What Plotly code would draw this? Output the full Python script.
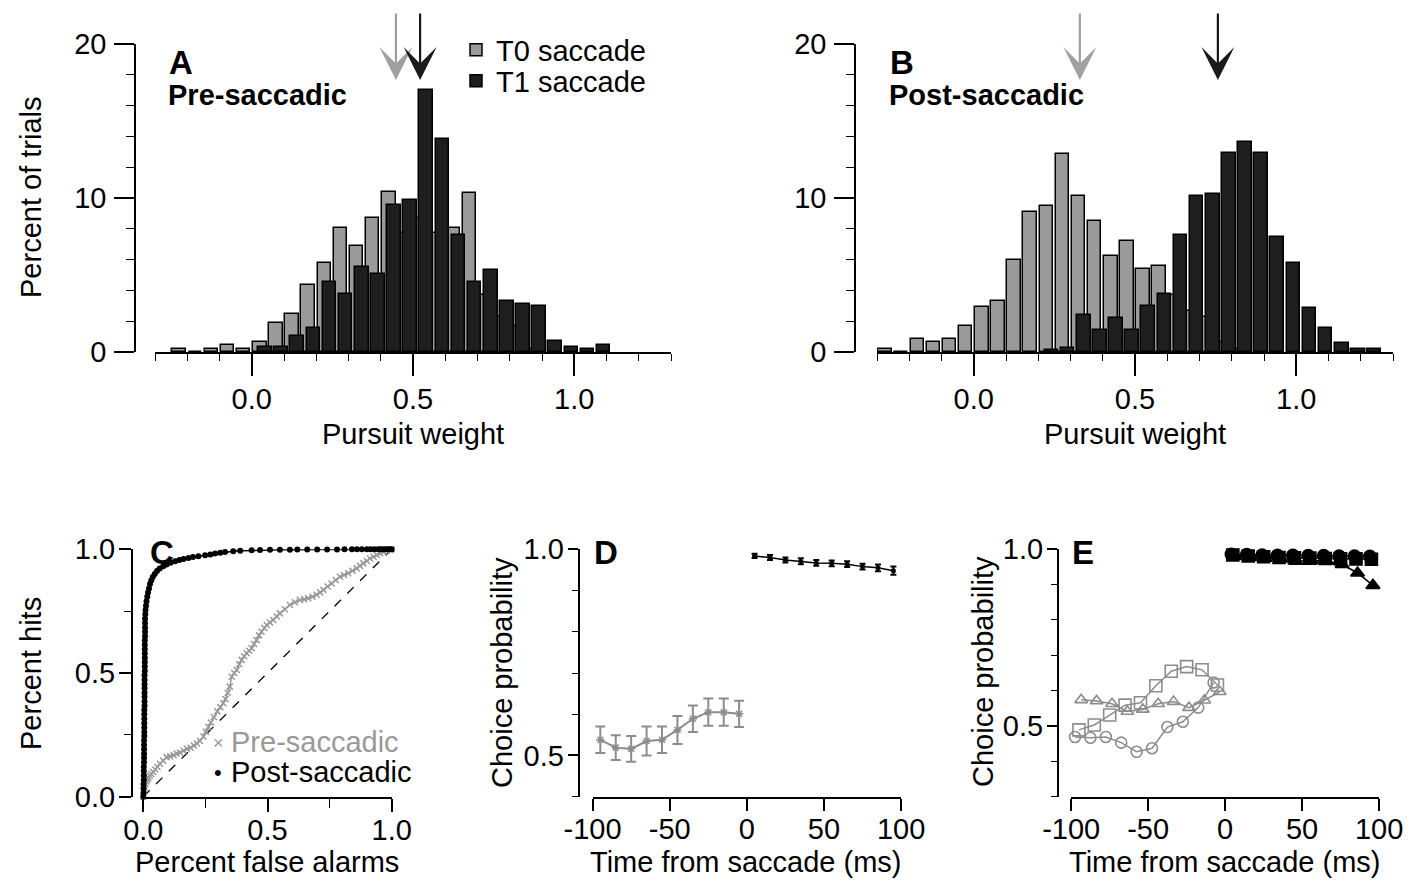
import plotly.graph_objects as go

W, H = 1419, 883
FONT = "Liberation Sans, Arial, Helvetica, sans-serif"
FS = 29
BAR_GRAY = "#9a9a9a"
BAR_BLACK = "#1e1e1e"
LINE_GRAY = "#8c8c8c"
C_GRAY = "#999999"

# ---------------- data ----------------
# Panel A (pre-saccadic) histogram, percent of trials per 0.05 bin (bin centres)
a_t0_bins = [-0.225, -0.175, -0.125, -0.075, -0.025, 0.025, 0.075, 0.125, 0.175, 0.225, 0.275,
             0.325, 0.375, 0.425, 0.475, 0.525, 0.575, 0.625, 0.675, 0.725, 0.775, 0.825, 0.875]
a_t0_pct = [0.22, 0.0, 0.22, 0.43, 0.22, 0.65, 1.88, 2.49, 4.35, 5.8, 8.08,
            6.86, 8.7, 10.37, 7.7, 8.7, 7.7, 8.05, 10.3, 3.68, 2.27, 1.67, 0.22]
a_t1_bins = [0.025, 0.075, 0.125, 0.175, 0.225, 0.275, 0.325, 0.375, 0.425, 0.475, 0.525,
             0.575, 0.625, 0.675, 0.725, 0.775, 0.825, 0.875, 0.925, 0.975, 1.025, 1.075]
a_t1_pct = [0.32, 0.32, 1.02, 1.56, 4.53, 3.79, 5.5, 5.09, 9.53, 9.85, 17.0,
            13.86, 7.6, 4.53, 5.35, 3.29, 3.1, 2.99, 0.71, 0.32, 0.22, 0.48]

# Panel B (post-saccadic) histogram
b_t0_bins = [-0.275, -0.225, -0.175, -0.125, -0.075, -0.025, 0.025, 0.075, 0.125, 0.175, 0.225,
             0.275, 0.325, 0.375, 0.425, 0.475, 0.525, 0.575, 0.625, 0.675, 0.725, 0.775, 0.825]
b_t0_pct = [0.2, 0.0, 0.82, 0.65, 0.82, 1.67, 2.92, 3.34, 6.0, 9.09, 9.5,
            12.84, 10.13, 8.51, 6.21, 7.21, 5.39, 5.59, 3.73, 2.64, 2.27, 0.65, 0.22]
b_t1_bins = [0.225, 0.275, 0.325, 0.375, 0.425, 0.475, 0.525, 0.575, 0.625, 0.675, 0.725,
             0.775, 0.825, 0.875, 0.925, 0.975, 1.025, 1.075, 1.125, 1.175, 1.225]
b_t1_pct = [0.15, 0.28, 2.38, 1.41, 2.23, 1.41, 2.97, 3.79, 7.62, 10.11, 10.26,
            12.92, 13.64, 12.92, 7.47, 5.78, 2.86, 1.56, 0.61, 0.18, 0.18]

# Mean pursuit weights (arrows)
a_mean_t0, a_mean_t1 = 0.447, 0.522
b_mean_t0, b_mean_t1 = 0.329, 0.757

# Panel C ROC curves
c_pre_fa = [0.000, 0.003, 0.005, 0.008, 0.012, 0.016, 0.020, 0.026, 0.032, 0.040, 0.048, 0.057,
            0.067, 0.080, 0.094, 0.108, 0.122, 0.134, 0.148, 0.162, 0.176, 0.190, 0.204, 0.216,
            0.228, 0.242, 0.252, 0.262, 0.272, 0.284, 0.298, 0.310, 0.322, 0.331, 0.340, 0.348,
            0.356, 0.366, 0.376, 0.386, 0.396, 0.406, 0.416, 0.426, 0.436, 0.446, 0.456, 0.466,
            0.476, 0.487, 0.497, 0.510, 0.523, 0.537, 0.550, 0.570, 0.590, 0.610, 0.631, 0.648,
            0.664, 0.681, 0.698, 0.712, 0.725, 0.742, 0.758, 0.775, 0.792, 0.808, 0.825, 0.842,
            0.859, 0.872, 0.886, 0.900, 0.913, 0.927, 0.940, 0.953, 0.966, 0.980, 0.993, 1.000]
c_pre_hit = [0.000, 0.020, 0.035, 0.050, 0.062, 0.070, 0.077, 0.085, 0.092, 0.100, 0.110, 0.120,
             0.133, 0.145, 0.160, 0.163, 0.168, 0.175, 0.178, 0.186, 0.194, 0.198, 0.207, 0.215,
             0.225, 0.243, 0.262, 0.283, 0.300, 0.322, 0.345, 0.362, 0.378, 0.395, 0.420, 0.445,
             0.485, 0.500, 0.512, 0.535, 0.553, 0.568, 0.580, 0.590, 0.600, 0.617, 0.633, 0.652,
             0.667, 0.682, 0.694, 0.704, 0.714, 0.728, 0.741, 0.758, 0.775, 0.786, 0.795, 0.798,
             0.802, 0.808, 0.816, 0.826, 0.836, 0.850, 0.862, 0.876, 0.889, 0.896, 0.903, 0.913,
             0.923, 0.933, 0.943, 0.953, 0.963, 0.970, 0.977, 0.984, 0.990, 0.994, 0.997, 1.000]
c_post_fa = [0.000, 0.001, 0.001, 0.001, 0.002, 0.002, 0.002, 0.002, 0.003, 0.003, 0.003, 0.003,
             0.003, 0.003, 0.004, 0.004, 0.004, 0.004, 0.004, 0.004, 0.004, 0.005, 0.005, 0.005,
             0.005, 0.005, 0.005, 0.005, 0.005, 0.006, 0.006, 0.006, 0.006, 0.006, 0.006, 0.006,
             0.006, 0.007, 0.007, 0.007, 0.007, 0.007, 0.008, 0.009, 0.011, 0.013, 0.016, 0.019,
             0.023, 0.027, 0.032, 0.038, 0.046, 0.055, 0.066, 0.080, 0.094, 0.110, 0.128, 0.145,
             0.162, 0.182, 0.200, 0.222, 0.249, 0.270, 0.289, 0.310, 0.329, 0.362, 0.390, 0.436,
             0.470, 0.510, 0.550, 0.590, 0.620, 0.660, 0.700, 0.740, 0.780, 0.810, 0.840, 0.860,
             0.880, 0.900, 0.915, 0.930, 0.945, 0.955, 0.965, 0.975, 0.985, 0.993, 1.000]
c_post_hit = [0.000, 0.016, 0.034, 0.051, 0.069, 0.086, 0.104, 0.121, 0.139, 0.157, 0.174, 0.192,
              0.209, 0.227, 0.245, 0.262, 0.280, 0.297, 0.315, 0.333, 0.350, 0.368, 0.385, 0.404,
              0.420, 0.438, 0.455, 0.473, 0.491, 0.508, 0.526, 0.543, 0.561, 0.579, 0.596, 0.614,
              0.631, 0.649, 0.667, 0.684, 0.702, 0.719, 0.737, 0.755, 0.772, 0.790, 0.808, 0.825,
              0.842, 0.860, 0.874, 0.888, 0.900, 0.912, 0.922, 0.931, 0.939, 0.946, 0.952, 0.957,
              0.961, 0.965, 0.969, 0.972, 0.976, 0.979, 0.983, 0.986, 0.989, 0.992, 0.994, 0.996,
              0.997, 0.998, 0.998, 0.998, 0.999, 0.999, 0.999, 0.999, 0.999, 1.000, 1.000, 1.000,
              1.000, 1.000, 1.000, 1.000, 1.000, 1.000, 1.000, 1.000, 1.000, 1.000, 1.000]
chance_line = [0.0, 1.0]

# Panel D choice probability (mean +/- error)
d_time_pre = [-95, -85, -75, -65, -55, -45, -35, -25, -15, -5]
d_cp_pre = [0.538, 0.519, 0.516, 0.535, 0.538, 0.562, 0.589, 0.605, 0.605, 0.601]
d_err_pre = [0.032, 0.030, 0.031, 0.035, 0.032, 0.034, 0.032, 0.033, 0.033, 0.032]
d_time_post = [5, 15, 25, 35, 45, 55, 65, 75, 85, 95]
d_cp_post = [0.984, 0.980, 0.974, 0.971, 0.967, 0.966, 0.964, 0.958, 0.955, 0.948]
d_err_post = [0.005, 0.006, 0.006, 0.007, 0.007, 0.007, 0.007, 0.007, 0.008, 0.010]

# Panel E choice probability, three individual data sets
e_time_circ_pre = [-97.5, -87.5, -77.5, -67.5, -57.5, -47.5, -37.5, -27.5, -17.5, -7.5]
e_time_sq_pre = [-95, -85, -75, -65, -55, -45, -35, -25, -15, -5]
e_time_tri_pre = [-93.5, -83.5, -73.5, -63.5, -53.5, -43.5, -33.5, -23.5, -13.5, -3.5]
e_circ_pre = [0.469, 0.467, 0.469, 0.453, 0.427, 0.437, 0.497, 0.512, 0.552, 0.623]
e_sq_pre = [0.489, 0.503, 0.531, 0.559, 0.566, 0.614, 0.655, 0.668, 0.659, 0.616]
e_tri_pre = [0.574, 0.571, 0.563, 0.541, 0.547, 0.563, 0.569, 0.552, 0.573, 0.597]
e_time_circ_post = [4, 14, 24, 34, 44, 54, 64, 74, 84, 94]
e_time_sq_post = [5, 15, 25, 35, 45, 55, 65, 75, 85, 95]
e_time_tri_post = [6, 16, 26, 36, 46, 56, 66, 76, 86, 96]
e_circ_post = [0.986, 0.985, 0.984, 0.983, 0.983, 0.982, 0.982, 0.981, 0.981, 0.980]
e_sq_post = [0.984, 0.981, 0.979, 0.977, 0.976, 0.975, 0.974, 0.973, 0.973, 0.972]
e_tri_post = [0.980, 0.977, 0.975, 0.973, 0.966, 0.968, 0.966, 0.957, 0.933, 0.898]

time_ticks = [-100, -50, 0, 50, 100]
time_tick_text = ["-100", "-50", "0", "50", "100"]


# ---------------- helpers ----------------
def px(x):
    return x / W


def py(y):
    return 1 - y / H


tickfont = dict(family=FONT, size=FS, color="black")
axis_common = dict(showline=True, linecolor="black", linewidth=1.6, ticks="outside",
                   tickcolor="black", tickwidth=1.6, showgrid=False, zeroline=False,
                   tickfont=tickfont, fixedrange=True, automargin=False)

fig = go.Figure()

# ---- A ----
fig.add_trace(go.Bar(x=a_t0_bins, y=a_t0_pct, width=0.042, offset=-0.021, name="T0 saccade",
                     marker=dict(color=BAR_GRAY, line=dict(color="black", width=1.5)),
                     xaxis="x", yaxis="y", legend="legend", showlegend=True))
fig.add_trace(go.Bar(x=a_t1_bins, y=a_t1_pct, width=0.042, offset=-0.005, name="T1 saccade",
                     marker=dict(color=BAR_BLACK, line=dict(color="black", width=1.5)),
                     xaxis="x", yaxis="y", legend="legend2", showlegend=True))
# ---- B ----
fig.add_trace(go.Bar(x=b_t0_bins, y=b_t0_pct, width=0.042, offset=-0.021, showlegend=False,
                     marker=dict(color=BAR_GRAY, line=dict(color="black", width=1.5)),
                     xaxis="x2", yaxis="y2"))
fig.add_trace(go.Bar(x=b_t1_bins, y=b_t1_pct, width=0.042, offset=-0.005, showlegend=False,
                     marker=dict(color=BAR_BLACK, line=dict(color="black", width=1.5)),
                     xaxis="x2", yaxis="y2"))

# ---- C ----
fig.add_trace(go.Scatter(x=chance_line, y=chance_line, mode="lines", showlegend=False,
                         line=dict(color="black", width=1.3, dash="dash"),
                         xaxis="x3", yaxis="y3", cliponaxis=False))
fig.add_trace(go.Scatter(x=c_pre_fa, y=c_pre_hit, mode="lines+markers", showlegend=False,
                         line=dict(color=C_GRAY, width=1.5),
                         marker=dict(symbol="x-thin-open", size=6, color=C_GRAY,
                                     line=dict(width=1.5, color=C_GRAY)),
                         xaxis="x3", yaxis="y3", cliponaxis=False))
fig.add_trace(go.Scatter(x=c_post_fa, y=c_post_hit, mode="lines+markers", showlegend=False,
                         line=dict(color="black", width=1.5),
                         marker=dict(symbol="circle", size=6, color="black"),
                         xaxis="x3", yaxis="y3", cliponaxis=False))

# ---- D ----
fig.add_trace(go.Scatter(x=d_time_pre, y=d_cp_pre, mode="lines+markers", showlegend=False,
                         line=dict(color=LINE_GRAY, width=2),
                         marker=dict(symbol="asterisk-open", size=7,
                                     line=dict(width=1.5, color=LINE_GRAY)),
                         error_y=dict(type="data", array=d_err_pre, color=LINE_GRAY,
                                      thickness=2, width=5),
                         xaxis="x4", yaxis="y4", cliponaxis=False))
fig.add_trace(go.Scatter(x=d_time_post, y=d_cp_post, mode="lines+markers", showlegend=False,
                         line=dict(color="black", width=1.5),
                         marker=dict(symbol="circle", size=5, color="black"),
                         error_y=dict(type="data", array=d_err_post, color="black",
                                      thickness=2, width=3),
                         xaxis="x4", yaxis="y4", cliponaxis=False))

# ---- E ----
e_sets = [
    (e_time_sq_pre, e_sq_pre, "square-open", LINE_GRAY, 12),
    (e_time_tri_pre, e_tri_pre, "triangle-up-open", LINE_GRAY, 11),
    (e_time_circ_pre, e_circ_pre, "circle-open", LINE_GRAY, 11),
    (e_time_tri_post, e_tri_post, "triangle-up", "black", 12),
    (e_time_sq_post, e_sq_post, "square", "black", 12),
    (e_time_circ_post, e_circ_post, "circle", "black", 12),
]
for tx, ty, sym, col, sz in e_sets:
    fig.add_trace(go.Scatter(x=tx, y=ty, mode="lines+markers", showlegend=False,
                             line=dict(color=col, width=1.5),
                             marker=dict(symbol=sym, size=sz, color=col,
                                         line=dict(width=1.6, color=col)),
                             xaxis="x5", yaxis="y5", cliponaxis=False))

# ---------------- axes ----------------
hist_y_dom = [py(352), py(44)]
low_y_dom = [py(796.7), py(549.3)]

def minor(dt, ln):
    return dict(ticks="outside", dtick=dt, tick0=0, ticklen=ln,
                tickcolor="black", tickwidth=1.4, showgrid=False)

layout_axes = dict(
    xaxis=dict(axis_common, domain=[px(155), px(671)], range=[-0.3, 1.3], anchor="y",
               tick0=0, dtick=0.5, ticklen=22, tickformat=".1f", ticklabelstandoff=-2,
               minor=minor(0.1, 7)),
    yaxis=dict(axis_common, domain=hist_y_dom, range=[0, 20], anchor="free", position=px(135),
               tick0=0, dtick=10, ticklen=20, ticklabelstandoff=2, minor=minor(2, 8)),
    xaxis2=dict(axis_common, domain=[px(877), px(1393)], range=[-0.3, 1.3], anchor="y2",
                tick0=0, dtick=0.5, ticklen=22, tickformat=".1f", ticklabelstandoff=-2,
                minor=minor(0.1, 7)),
    yaxis2=dict(axis_common, domain=hist_y_dom, range=[0, 20], anchor="free", position=px(855),
                tick0=0, dtick=10, ticklen=20, ticklabelstandoff=2, minor=minor(2, 8)),
    xaxis3=dict(axis_common, domain=[px(143.3), px(391.7)], range=[0, 1], anchor="y3",
                tick0=0, dtick=0.5, ticklen=13, tickformat=".1f", ticklabelstandoff=-6,
                minor=minor(0.25, 9)),
    yaxis3=dict(axis_common, domain=low_y_dom, range=[0, 1], anchor="free", position=px(131.7),
                tick0=0, dtick=0.5, ticklen=12, tickformat=".1f", ticklabelstandoff=-2,
                minor=minor(0.25, 7)),
    xaxis4=dict(axis_common, domain=[px(592.6), px(901.1)], range=[-100, 100], anchor="y4",
                tickvals=time_ticks, ticktext=time_tick_text, ticklen=12, ticklabelstandoff=-6),
    yaxis4=dict(axis_common, domain=low_y_dom, range=[0.4, 1.0], anchor="free", position=px(578.5),
                tickvals=[0.5, 1.0], tickformat=".1f", ticklen=10, ticklabelstandoff=-2,
                minor=minor(0.1, 6)),
    xaxis5=dict(axis_common, domain=[px(1071.2), px(1379.1)], range=[-100, 100], anchor="y5",
                tickvals=time_ticks, ticktext=time_tick_text, ticklen=12, ticklabelstandoff=-6),
    yaxis5=dict(axis_common, domain=low_y_dom, range=[0.3, 1.0], anchor="free", position=px(1057.7),
                tickvals=[0.5, 1.0], tickformat=".1f", ticklen=10, ticklabelstandoff=-2,
                minor=minor(0.1, 6)),
)


# ---------------- annotations ----------------
def txt(text, x, y, size=FS, bold=False, color="black", angle=0, xanchor="center"):
    t = "<b>%s</b>" % text if bold else text
    return dict(text=t, x=px(x), y=py(y), xref="paper", yref="paper", showarrow=False,
                xanchor=xanchor, yanchor="middle", textangle=angle,
                font=dict(family=FONT, size=size, color=color))


annots = [
    txt("A", 167, 62, size=33, bold=True, xanchor="left"),
    txt("Pre-saccadic", 166, 95, bold=True, xanchor="left"),
    txt("B", 888, 62, size=33, bold=True, xanchor="left"),
    txt("Post-saccadic", 887, 95, bold=True, xanchor="left"),
    txt("C", 162, 552, size=33, bold=True),
    txt("D", 606, 552, size=33, bold=True),
    txt("E", 1083, 552, size=33, bold=True),
    txt("Percent of trials", 31, 198, angle=-90),
    txt("Pursuit weight", 413, 434),
    txt("Pursuit weight", 1135, 434),
    txt("Percent hits", 31, 674, angle=-90),
    txt("Percent false alarms", 267, 862),
    txt("Choice probability", 502, 672, angle=-90),
    txt("Choice probability", 983, 672, angle=-90),
    txt("Time from saccade (ms)", 746, 862),
    txt("Time from saccade (ms)", 1225, 862),
    txt("×", 218, 743, size=18, color=C_GRAY),
    txt("Pre-saccadic", 229, 742, color=C_GRAY, xanchor="left"),
    txt("•", 218, 772, size=22),
    txt("Post-saccadic", 229, 772, xanchor="left"),
]

for xm, col, xr in [(a_mean_t0, "#a0a0a0", "x"), (a_mean_t1, "#1a1a1a", "x"),
                    (b_mean_t0, "#a0a0a0", "x2"), (b_mean_t1, "#1a1a1a", "x2")]:
    annots.append(dict(x=xm, y=py(80), xref=xr, yref="paper", text="", showarrow=True,
                       ax=0, ay=-68, arrowhead=3, arrowsize=2.5, arrowwidth=2.2,
                       arrowcolor=col, standoff=0))

legend_common = dict(xanchor="left", yanchor="middle", bgcolor="rgba(0,0,0,0)",
                     borderwidth=0, itemwidth=30,
                     font=dict(family=FONT, size=FS, color="black"))

fig.update_layout(
    width=W, height=H, margin=dict(l=0, r=0, t=0, b=0, pad=0, autoexpand=False),
    paper_bgcolor="white", plot_bgcolor="white",
    barmode="overlay", bargap=0,
    font=dict(family=FONT, size=FS, color="black"),
    legend=dict(legend_common, x=px(456), y=py(50)),
    legend2=dict(legend_common, x=px(456), y=py(81)),
    annotations=annots,
    **layout_axes,
)

fig.write_html("out.html", include_plotlyjs=True,
               config={"displayModeBar": False},
               post_script="document.body.style.margin='0';document.body.style.overflow='hidden';")
